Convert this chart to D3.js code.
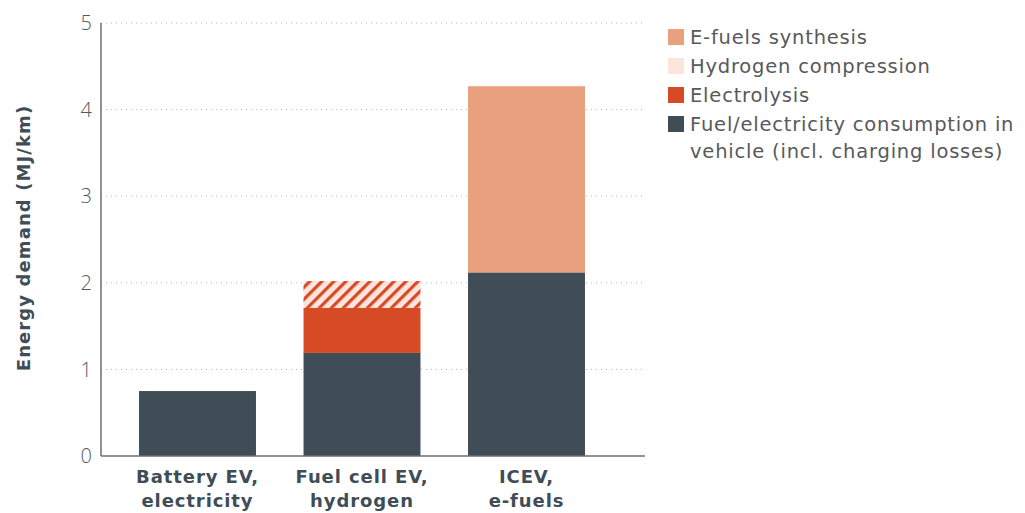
<!DOCTYPE html>
<html>
<head>
<meta charset="utf-8">
<script src="https://cdn.jsdelivr.net/npm/d3@7"></script>
<style>
  body { margin: 0; background: #fff; }
  text { font-family: "DejaVu Sans", sans-serif; }
</style>
</head>
<body>
<div id="chart"></div>
<script>
// categories & series (MJ/km)
const categories = [['Battery EV,', 'electricity'], ['Fuel cell EV,', 'hydrogen'], ['ICEV,', 'e-fuels']]
const keys = ['vehicle', 'electrolysis', 'compression', 'efuels']
const vehicleVals = [0.75, 1.19, 2.12]
const electrolysisVals = [0, 0.52, 0]
const compressionVals = [0, 0.31, 0]
const efuelsVals = [0, 0, 2.15]
const yTicks = [0, 1, 2, 3, 4, 5]
const legendItems = [
  { key: 'efuels', label: ['E-fuels synthesis'] },
  { key: 'compression', label: ['Hydrogen compression'] },
  { key: 'electrolysis', label: ['Electrolysis'] },
  { key: 'vehicle', label: ['Fuel/electricity consumption in', 'vehicle (incl. charging losses)'] }
]

const width = 1025, height = 513
const colors = {
  vehicle: '#404d57',
  electrolysis: '#d64a26',
  compression: 'url(#hatch)',
  efuels: '#e8a07f'
}
const swatch = {
  vehicle: '#404d57',
  electrolysis: '#d64a26',
  compression: '#fbe5dc',
  efuels: '#e8a07f'
}

const rows = categories.map((c, i) => ({
  cat: i,
  vehicle: vehicleVals[i],
  electrolysis: electrolysisVals[i],
  compression: compressionVals[i],
  efuels: efuelsVals[i]
}))

const svg = d3.select('#chart').append('svg')
  .attr('width', width).attr('height', height)

// hatch pattern for hydrogen compression
const pat = svg.append('defs').append('pattern')
  .attr('id', 'hatch')
  .attr('patternUnits', 'userSpaceOnUse')
  .attr('width', 8.5).attr('height', 8.5)
  .attr('patternTransform', 'rotate(45)')
pat.append('rect').attr('width', 8.5).attr('height', 8.5).attr('fill', '#fbe5dc')
pat.append('rect').attr('width', 3.2).attr('height', 8.5).attr('fill', '#d64a26')

const x = d3.scaleBand()
  .domain(d3.range(categories.length))
  .range([115.25, 608.75])
  .paddingInner(0.289)
  .paddingOuter(0.1445)

const y = d3.scaleLinear().domain([0, 5]).range([456, 23])

const x0 = 101, x1 = 645

// gridlines
svg.append('g').selectAll('line')
  .data(yTicks.filter(d => d > 0))
  .join('line')
  .attr('x1', x0).attr('x2', x1)
  .attr('y1', d => y(d)).attr('y2', d => y(d))
  .attr('stroke', '#b5b5b5')
  .attr('stroke-width', 1)
  .attr('stroke-dasharray', '1,4')

// stacked bars
const stack = d3.stack().keys(keys)(rows)
svg.append('g').selectAll('g')
  .data(stack)
  .join('g')
  .attr('fill', d => colors[d.key])
  .selectAll('rect')
  .data(d => d.filter(s => s[1] - s[0] > 0))
  .join('rect')
  .attr('x', d => x(d.data.cat))
  .attr('width', x.bandwidth())
  .attr('y', d => y(d[1]))
  .attr('height', d => y(d[0]) - y(d[1]))

// axes lines
svg.append('line')
  .attr('x1', x0).attr('x2', x0).attr('y1', y(5)).attr('y2', y(0))
  .attr('stroke', '#6d6e71').attr('stroke-width', 1.5)
svg.append('line')
  .attr('x1', x0).attr('x2', x1).attr('y1', y(0)).attr('y2', y(0))
  .attr('stroke', '#6d6e71').attr('stroke-width', 1.5)

// y tick labels
svg.append('g').selectAll('text')
  .data(yTicks)
  .join('text')
  .attr('x', 92)
  .attr('y', d => y(d))
  .attr('dy', '0.36em')
  .attr('text-anchor', 'end')
  .attr('fill', '#58595b')
  .style('font-family', '"Open Sans", sans-serif')
  .style('font-size', '20px')
  .style('font-weight', 300)
  .text(d => d)

// y axis title
svg.append('text')
  .attr('transform', 'translate(30,238) rotate(-90)')
  .attr('text-anchor', 'middle')
  .attr('fill', '#404d57')
  .style('font-size', '18px')
  .style('font-weight', 600)
  .style('letter-spacing', '1.1px')
  .text('Energy demand (MJ/km)')

// category labels
const cl = svg.append('g').selectAll('text')
  .data(categories)
  .join('text')
  .attr('text-anchor', 'middle')
  .attr('fill', '#404d57')
  .style('font-size', '18px')
  .style('font-weight', 600)
  .style('letter-spacing', '0.9px')
cl.selectAll('tspan')
  .data((d, i) => d.map(t => ({ t: t, i: i })))
  .join('tspan')
  .attr('x', d => x(d.i) + x.bandwidth() / 2)
  .attr('y', (d, j) => 483 + j * 24)
  .text(d => d.t)

// legend
const lg = svg.append('g').selectAll('g')
  .data(legendItems)
  .join('g')
  .attr('transform', (d, i) => 'translate(668,' + (37 + i * 29) + ')')
lg.append('rect')
  .attr('x', 0).attr('y', -8)
  .attr('width', 16).attr('height', 16)
  .attr('fill', d => swatch[d.key])
lg.append('text')
  .attr('fill', '#58595b')
  .style('font-size', '19.5px')
  .style('font-weight', 400)
  .style('letter-spacing', '0.8px')
  .selectAll('tspan')
  .data(d => d.label)
  .join('tspan')
  .attr('x', 22)
  .attr('y', (d, j) => j * 27)
  .attr('dy', '0.36em')
  .text(d => d)
</script>
</body>
</html>
